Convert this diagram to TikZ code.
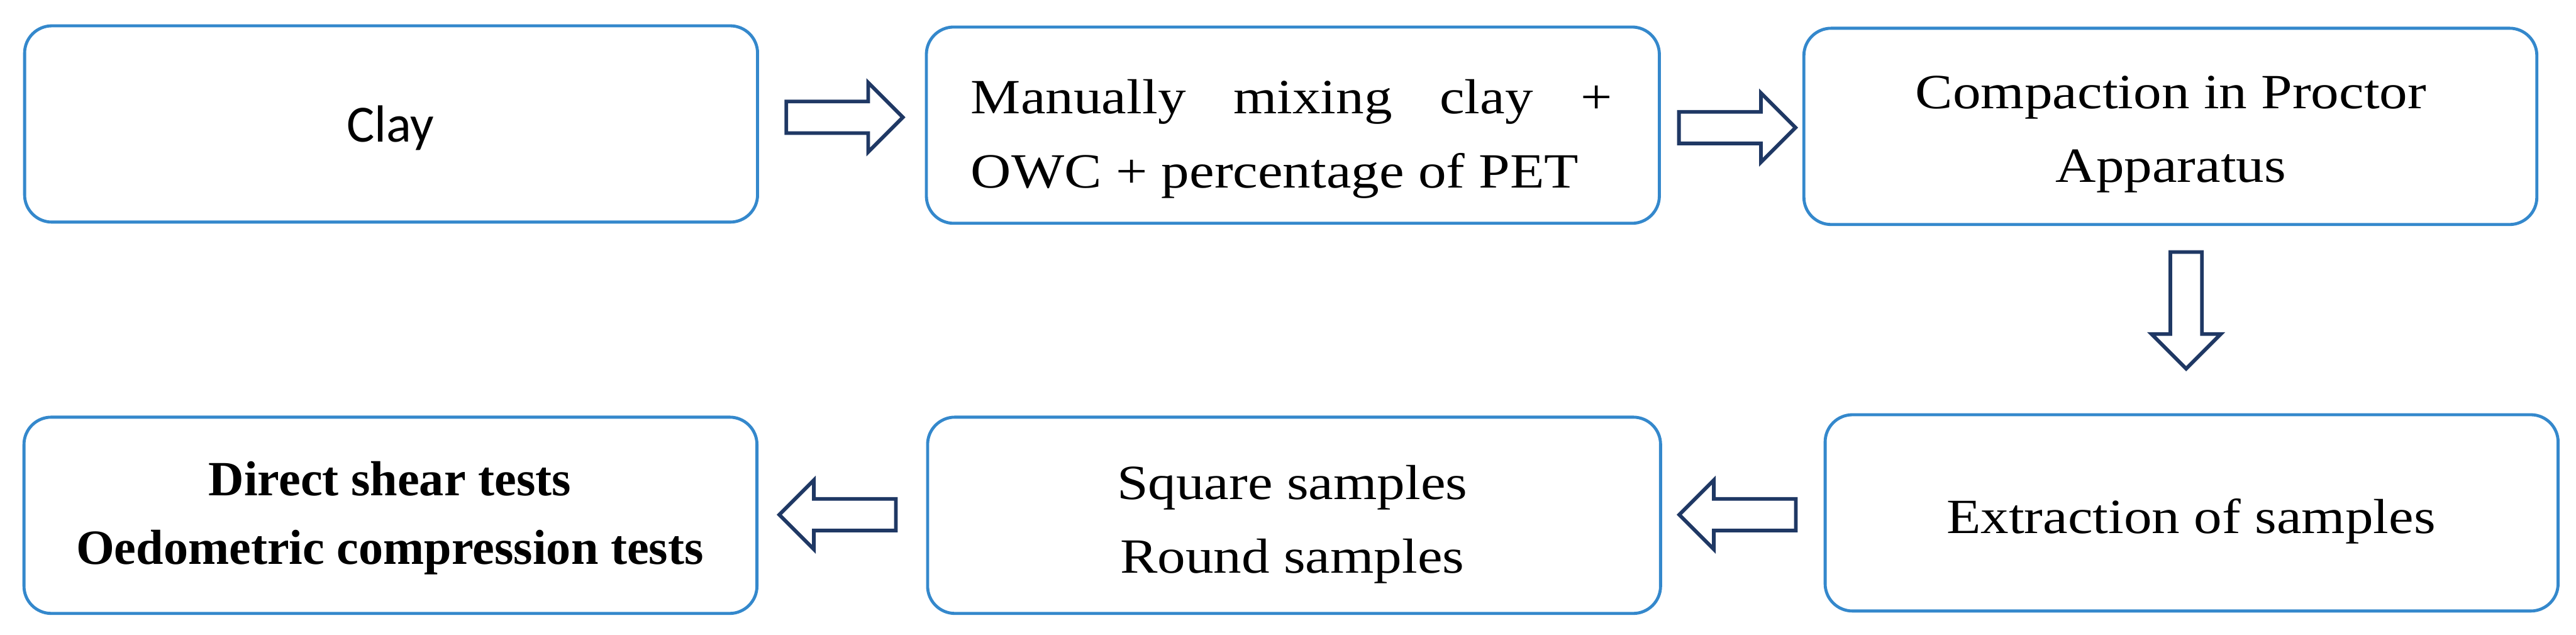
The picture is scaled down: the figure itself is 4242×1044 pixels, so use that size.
\documentclass[tikz,border=0pt]{standalone}
\usepackage{fontspec}
\setmainfont{Liberation Serif}[FakeStretch=1.14]
\newfontfamily\plainserif{Liberation Serif}
\newfontfamily\clayfont{Carlito}
\usetikzlibrary{shapes.arrows}
\definecolor{boxblue}{HTML}{3488CC}
\definecolor{navyline}{HTML}{1F3864}
\begin{document}
\begin{tikzpicture}[x=0.25pt,y=-0.25pt,
  procbox/.style={draw=boxblue, line width=1.25pt, rounded corners=11.25pt,
    minimum width=301.75pt, minimum height=80.75pt, inner sep=0pt, fill=white},
  txt/.style={inner sep=0pt, font=\fontsize{20.25pt}{30.5pt}\selectfont, align=center},
  blockarrow/.style={single arrow, draw=navyline, fill=white, line width=1.5pt,
    inner xsep=0pt, inner ysep=5.75pt, single arrow head extend=7.75pt,
    minimum height=48pt, minimum width=0pt, anchor=tip}]
\useasboundingbox[fill=white] (0,0) rectangle (4242,1044);
% boxes
\node[procbox] (b1) at (644,204) {};
\node[procbox] (b2) at (2129,206) {};
\node[procbox] (b3) at (3574,208) {};
\node[procbox] (b4) at (3609,844) {};
\node[procbox] (b5) at (2131,848) {};
\node[procbox] (b6) at (643,848) {};
% texts
\node[inner sep=0pt, font=\clayfont\fontsize{21.5pt}{26pt}\selectfont] (t1) at (643,211) {Clay};
\node[txt, align=left] (t2) at (2127,229) {\makebox[264pt][s]{Manually mixing clay +}\\OWC + percentage of PET};
\node[txt] (t3) at (3575,221) {Compaction in Proctor\\Apparatus};
\node[txt] (t4) at (3608,858) {Extraction of samples};
\node[txt] (t5) at (2128,863) {Square samples\\Round samples};
\node[txt, font=\plainserif\bfseries\fontsize{20.25pt}{28.25pt}\selectfont] (t6) at (642,853) {Direct shear tests\\Oedometric compression tests};
% arrows
\node[blockarrow] (a1) at (1491,193) {};
\node[blockarrow] (a2) at (2961,210) {};
\node[blockarrow, rotate=-90] (a3) at (3600,611) {};
\node[blockarrow, rotate=180] (a4) at (2761,847) {};
\node[blockarrow, rotate=180] (a5) at (1279,847) {};
\end{tikzpicture}
\end{document}
